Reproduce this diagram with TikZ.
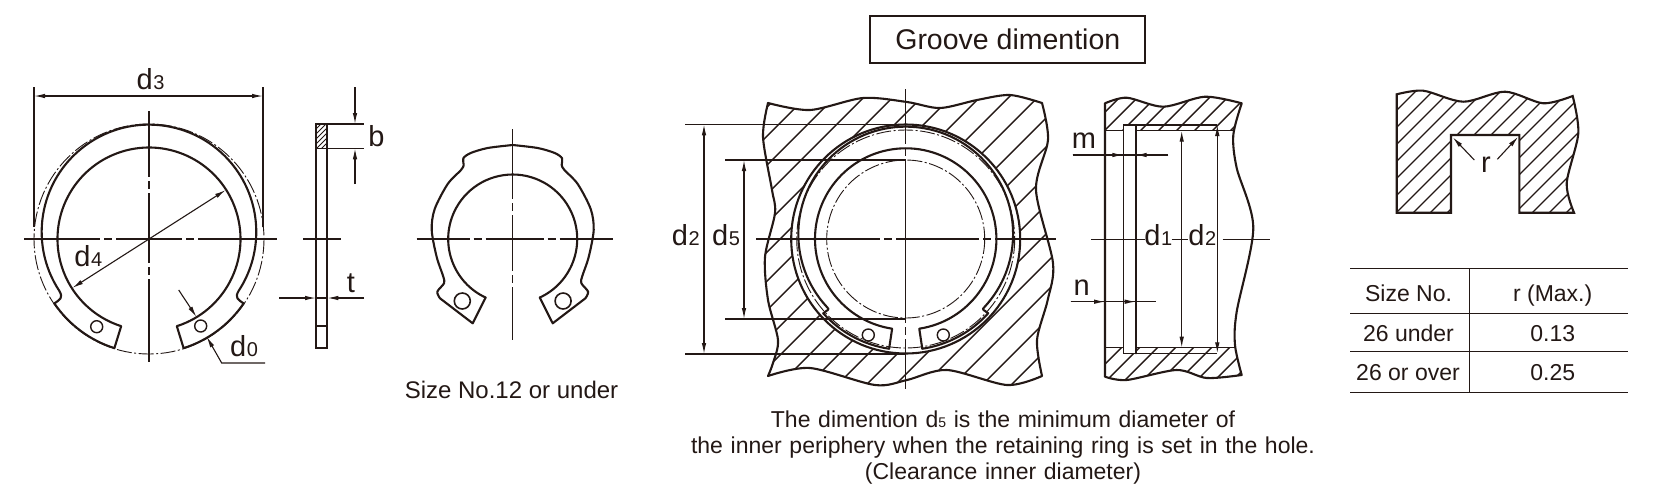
\documentclass[tikz,border=0pt]{standalone}
\usepackage{fontspec}
\setmainfont{Liberation Sans}
\usetikzlibrary{arrows.meta}
\definecolor{tinta}{HTML}{231815}
\newcommand{\dd}[1]{{\fontsize{29}{29}\selectfont d\kern.6pt\fontsize{20}{20}\selectfont #1}}
\newcommand{\letra}{\fontsize{29}{29}\selectfont}
\newcommand{\tabla}{\fontsize{23}{23}\selectfont}
\def\bloque{plot[smooth] coordinates {(768,103) (810,110) (863,98) (907,102) (940,108) (977,100) (1010,95) (1042,103)}
	-- plot[smooth] coordinates {(1042,103) (1048,140) (1036,190) (1053,263) (1047.7,300) (1037,340) (1042,376)}
	-- plot[smooth] coordinates {(1042,376) (1007,385) (947,370) (907,380) (875,385) (810,368) (768,376)}
	-- plot[smooth] coordinates {(768,376) (773,363) (778,340) (768,300) (765,257) (775,213) (772,190) (763,137) (768,103)} -- cycle}
\def\pared{plot[smooth] coordinates {(1105,103.3) (1126.7,97.7) (1163.3,106.7) (1205,96.7) (1241.7,103.3)}
	-- plot[smooth] coordinates {(1241.7,103.3) (1233.3,135) (1236.7,168) (1253.3,228) (1236.7,311.7) (1235,345) (1241.7,375)}
	-- plot[smooth] coordinates {(1241.7,375) (1206.7,378) (1176.7,370) (1126.7,380) (1105,376.7)} -- cycle}
\def\perfil{plot[smooth] coordinates {(1396.7,94.3) (1423.3,90.7) (1463.3,101.7) (1505,91.7) (1543.3,103.3) (1572.7,96)}
	-- plot[smooth] coordinates {(1572.7,96) (1578.3,133.3) (1566.7,183.3) (1574,212.7)}
	-- (1519.3,212.7) -- (1519.3,135) -- (1451,135) -- (1451,212.7) -- (1396.7,212.7) -- cycle}
\tikzset{
	fina/.style={color=tinta, line width=1.1pt},
	anillo/.style={color=tinta, line width=2.1pt, line cap=round, line join=round},
	raya/.style={color=tinta, line width=1.4pt},
	cota/.style={fina, {Latex[length=11pt,width=4.5pt]}-{Latex[length=11pt,width=4.5pt]}},
	flecha/.style={fina, -{Latex[length=11pt,width=4.5pt]}},
	eje/.style n args={3}{fina, dash pattern=on #1pt off 4pt on 8pt off 4pt on #2pt off 4pt on 8pt off 4pt on #3pt off 4pt},
	libre/.style={color=tinta, line width=.9pt, dash pattern=on 15pt off 2.5pt on 2pt off 2.5pt},
	texto/.style={anchor=base, inner sep=0pt, text=tinta}
}
\begin{document}
\begin{tikzpicture}[x=1pt, y=1pt, yscale=-1]
	\fill[white] (0,0) rectangle (1663,499);

	% Anillo, vista frontal ---------------------------------------------------
	\begin{scope}[shift={(149,239)}]
		\draw[libre] (0,0) circle (115); % contorno libre
		\draw[anillo] (72.3:91.5) arc (72.3:-252.3:91.5) % borde interior
			-- (107.6:114.5) arc (107.6:145.75:114.5)
			.. controls (-89,60.5) and (-85.5,59) .. (-89.6,52)
			arc (146.6:393.4:107.3)
			.. controls (85.5,59) and (89,60.5) .. (34.25:114.5)
			arc (34.25:72.4:114.5) -- cycle;
		\draw[raya] (-52.3,87.7) circle (6) (51.7,87) circle (6); % agujeros
	\end{scope}
	\draw[eje={76}{66}{85}] (24,239) -- (277,239);
	\draw[eje={66}{70}{85}] (149,111) -- (149,362);
	\draw[fina] (34,87) -- (34,227) (263,87) -- (263,227);
	\draw[cota] (34,96) -- (263,96);
	\node[texto] (etiqD3) at (150.5,89.3) {\dd{3}};
	\draw[cota] (72.3,288) -- (225.7,190);
	\node[texto] (etiqD4) at (88.3,266) {\dd{4}};
	\draw[flecha] (178.7,290) -- (196.5,317);
	\draw[flecha] (265,363) -- (221.7,363) -- (206.7,336.7);
	\node[texto] (etiqD0) at (244,356) {\dd{0}};

	% Anillo, vista lateral ---------------------------------------------------
	\begin{scope}
		\clip (316,124) rectangle (327.3,148.3);
		\foreach \k in {440,445,...,480}
			\draw[color=tinta, line width=.8pt] (\k,0) -- +(-200,200);
	\end{scope}
	\draw[raya, line width=1.8pt] (316,124) rectangle (327.3,348.3);
	\draw[fina] (316,148.3) -- (327.3,148.3) (316,326) -- (327.3,326);
	\draw[fina] (303,239) -- (341,239);
	\draw[fina] (327.3,124) -- (364,124) (327.3,148.3) -- (364,148.3);
	\draw[flecha] (355,87) -- (355,124);
	\draw[flecha] (355,184) -- (355,148.3);
	\node[texto] (etiqB) at (376.5,146) {\letra b};
	\draw[fina] (316,298) -- (327.3,298);
	\draw[flecha] (279,298) -- (316,298);
	\draw[flecha] (364,298) -- (327.3,298);
	\node[texto] (etiqT) at (351,292.7) {\letra t};

	% Anillo pequeño ---------------------------------------------------------
	\begin{scope}[shift={(512.7,239)}]
		\foreach \lado in {1,-1}{
			\begin{scope}[xscale=\lado]
				\draw[anillo] (114.8:64.5) arc (114.8:270:64.5);
				\draw[anillo] (114.8:64.5) -- (-40,84.3) -- (-72.7,59.3)
					-- plot[smooth] coordinates {(-72.7,59.3) (-75.4,52.7) (-68.7,44.3) (-69.4,37.7) (-76,18) (-81,-9) (-78,-30) (-65,-55) (-51.7,-69) (-49,-74) (-49.4,-80.7) (-42,-86) (-25,-91) (0,-94)};
				\draw[raya, line width=1.6pt] (-50.4,62) circle (8);
			\end{scope}
		}
	\end{scope}
	\draw[eje={53}{58}{60}] (416.7,239) -- (612.7,239);
	\draw[eje={70}{56}{57}] (512.7,129.3) -- (512.7,340);
	\node[texto] (etiqTam) at (511.5,398) {\fontsize{24}{24}\selectfont Size No.12 or under};

	% Ranura, vista frontal ---------------------------------------------------
	\node[draw=tinta, line width=2pt, minimum width=275pt, minimum height=46.7pt, inner sep=0pt, text=tinta] (titulo) at (1007.8,39.3)
		{\fontsize{28.5}{28.5}\selectfont Groove dimention};
	\begin{scope}
		\clip \bloque;
		\foreach \k in {874,903,...,1450}
			\draw[raya] (\k,0) -- +(-500,500);
		\fill[white] (905.7,239) circle (114.5);
	\end{scope}
	\draw[anillo] \bloque;
	\begin{scope}[shift={(905.7,239)}]
		\draw[anillo] (0,0) circle (114.5); % agujero
		\draw[libre] (0,0) circle (109) (0,0) circle (79);
		\draw[anillo] (81.4:90.7) arc (81.4:-261.4:90.7)
			-- (98.6:111) arc (98.6:138:111)
			.. controls (-79,71) and (-75,71) .. (-78.8,68)
			arc (137.2:402.8:107.4)
			.. controls (75,71) and (79,71) .. (42:111)
			arc (42:81.4:111) -- cycle;
		\draw[raya] (-37.4,96) circle (6) (37.6,96) circle (6);
	\end{scope}
	\draw[eje={124}{83}{64}] (756,239) -- (1055.7,239);
	\draw[eje={55}{163}{50}] (905.7,89) -- (905.7,389);
	\draw[fina] (685,124.3) -- (905.7,124.3) (685,354) -- (905.7,354);
	\draw[fina] (725,160) -- (905.7,160) (725,319) -- (905.7,319);
	\draw[cota] (704,124.3) -- (704,354);
	\draw[cota] (744,160) -- (744,319);
	\node[texto] (etiqD2a) at (685.7,245.7) {\dd{2}};
	\node[texto] (etiqD5) at (726,245.7) {\dd{5}};
	\node[texto, align=center, font=\tabla, text width=680pt] (nota) at (1003,427)
		{The dimention d{\fontsize{14}{14}\selectfont 5} is the minimum diameter of\\[3pt]
		the inner periphery when the retaining ring is set in the hole.\\[3pt]
		(Clearance inner diameter)};

	% Ranura, corte -----------------------------------------------------------
	\begin{scope}
		\clip \pared;
		\foreach \k in {1199,1217,...,1640}
			\draw[raya] (\k,0) -- +(-500,500);
		\fill[white] (1100,130.7) rectangle (1260,347.7);
	\end{scope}
	\draw[anillo] \pared;
	\draw[raya] (1105,130.7) -- (1235,130.7) (1105,347.7) -- (1235,347.7);
	\draw[raya] (1123.3,125) -- (1217.3,125) (1123.3,353.3) -- (1217.3,353.3);
	\fill[white] (1123.3,125) rectangle (1135.7,353.3);
	\draw[raya] (1123.3,125) rectangle (1135.7,353.3);
	\draw[anillo] (1135.7,125) -- (1135.7,353.3);
	\draw[cota] (1181.7,130.7) -- (1181.7,347.7);
	\draw[cota] (1217.3,125) -- (1217.3,353.3);
	\node[texto] (etiqD1) at (1158.3,245.7) {\dd{1}};
	\node[texto] (etiqD2b) at (1202.3,245.7) {\dd{2}};
	\coordinate (ejeIzq) at (1091,239.3);
	\coordinate (ejeDer) at (1270,239.3);
	\draw[fina] (ejeIzq) -- (1145,239.3);
	\draw[fina] (1171.7,239.3) -- (1188.3,239.3);
	\draw[fina] (1222.7,239.3) -- (ejeDer);
	\draw[fina] (1072.7,155) -- (1168.3,155);
	\draw[flecha] (1072.7,155) -- (1123.3,155);
	\draw[flecha] (1168.3,155) -- (1135.7,155);
	\node[texto] (etiqM) at (1084,148) {\letra m};
	\draw[fina] (1070.7,301.7) -- (1156,301.7);
	\draw[flecha] (1070.7,301.7) -- (1105,301.7);
	\draw[flecha] (1120,301.7) -- (1135.7,301.7);
	\node[texto] (etiqN) at (1081.7,295) {\letra n};

	% Detalle del radio -------------------------------------------------------
	\begin{scope}
		\clip \perfil;
		\foreach \k in {1490,1507,...,1800}
			\draw[raya, line width=1.2pt] (\k,0) -- +(-500,500);
	\end{scope}
	\draw[anillo, line cap=butt, line join=miter] \perfil;
	\draw[flecha] (1474.3,160) -- (1452.7,137.3);
	\draw[flecha] (1497.3,159.3) -- (1518.3,136.7);
	\node[texto] (etiqR) at (1486,172.7) {\fontsize{29}{29}\selectfont r};

	% Tabla -------------------------------------------------------------------
	\draw[raya] (1350,268.3) -- (1628.3,268.3);
	\draw[raya] (1350,313.3) -- (1628.3,313.3);
	\draw[raya] (1350,351.3) -- (1628.3,351.3);
	\draw[raya] (1350,392.3) -- (1628.3,392.3);
	\draw[raya] (1469.3,268.3) -- (1469.3,392.3);
	\node[texto] (celdaA) at (1408.5,301.7) {\tabla Size No.};
	\node[texto] (celdaB) at (1552.7,301.7) {\tabla r (Max.)};
	\node[texto] (celdaC) at (1408.5,341) {\tabla 26 under};
	\node[texto] (celdaD) at (1552.7,341) {\tabla 0.13};
	\node[texto] (celdaE) at (1408,380) {\tabla 26 or over};
	\node[texto] (celdaF) at (1552.7,380) {\tabla 0.25};
\end{tikzpicture}
\end{document}
